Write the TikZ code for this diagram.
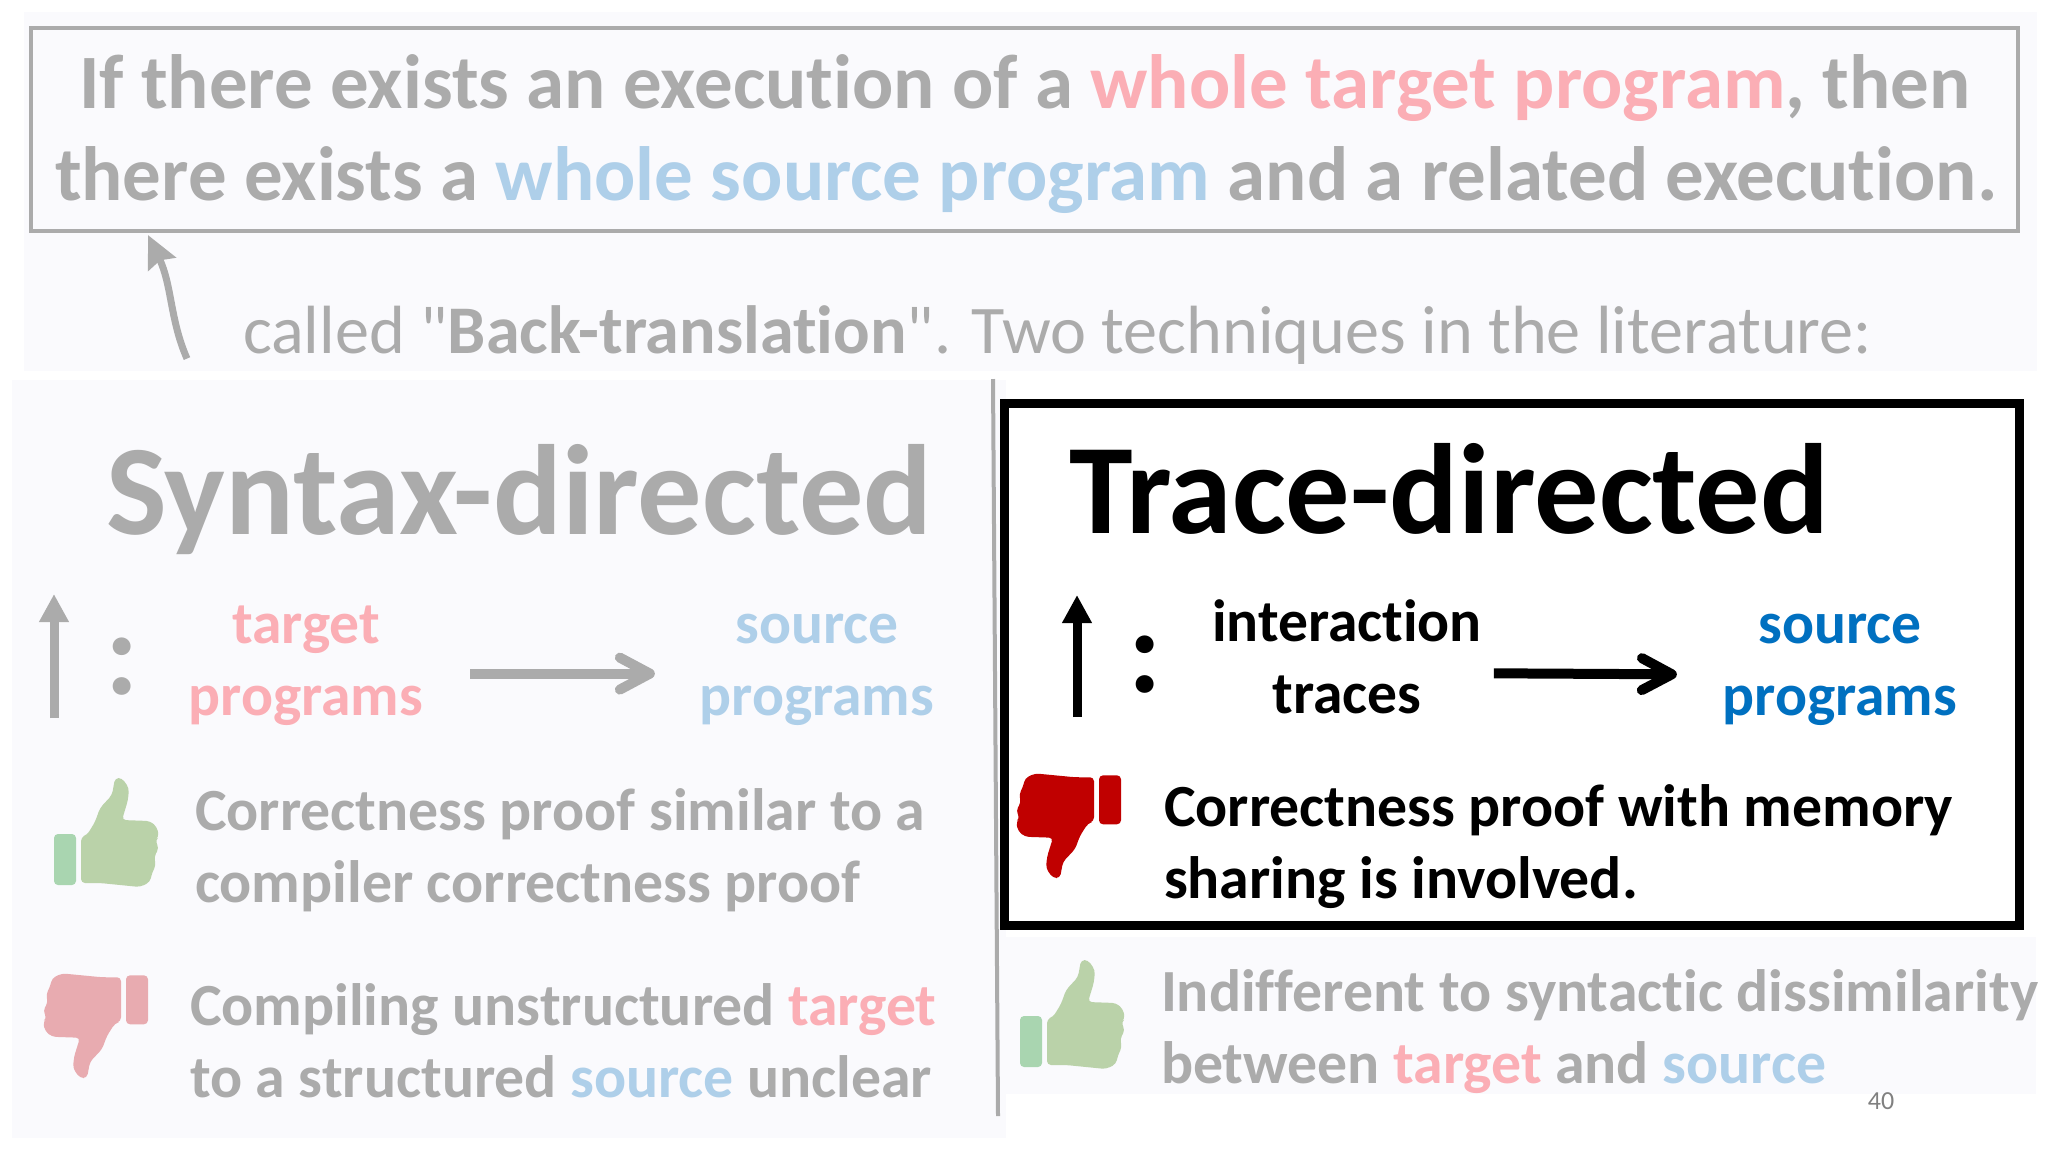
\documentclass[tikz,border=0pt]{standalone}
\usepackage{fontspec}
\setmainfont{Carlito}[Ligatures={NoCommon,TeXOff}]
\usetikzlibrary{arrows.meta}

\definecolor{fadegray}{HTML}{ABABAB}
\definecolor{fadered}{HTML}{FBAEB5}
\definecolor{fadeblue}{HTML}{AECFE9}
\definecolor{panelbg}{HTML}{FAFAFD}
\definecolor{solidblue}{HTML}{0070C0}
\definecolor{solidred}{HTML}{C00000}
\definecolor{thumbbar}{HTML}{A9D5B0}
\definecolor{thumbhand}{HTML}{BAD2A9}
\definecolor{thumbbad}{HTML}{E8ABB0}
\newcommand{\tg}[1]{\textcolor{fadered}{#1}}
\newcommand{\sr}[1]{\textcolor{fadeblue}{#1}}

\tikzset{
  panel/.style={fill=panelbg,draw=none},
  txt/.style={inner sep=0pt,outer sep=0pt},
  headline/.style={txt,anchor=base west,font=\fontsize{38.46}{36}\bfseries\selectfont},
  title/.style={txt,anchor=base west,font=\fontsize{64.2}{60}\bfseries\selectfont},
  body/.style={txt,anchor=base west,align=left,font=\fontsize{29.9}{36}\bfseries\selectfont},
  dual/.style={txt,anchor=base,align=center,font=\fontsize{29.8}{36}\bfseries\selectfont},
  colon/.style={txt,anchor=base,font=\fontsize{60}{60}\bfseries\selectfont},
  uparrow/.style={line width=4.5pt,-{Triangle[length=14pt,width=14pt]}},
  flow/.style={line width=5pt,-{Straight Barb[length=15pt,width=16pt,round]}},
  pics/thumb/.style 2 args={code={
    \fill[rounded corners=2pt,#1] (0,57) rectangle (22,108);
    \fill[#2,rounded corners=2pt] (27,106) -- (27,60) -- (33,58) -- (41,45) -- (46,31)
      -- (58,18) -- (61,1) -- (68,1) -- (75,11) -- (74,23) -- (68,43) -- (96,44)
      -- (103,50) -- (105,60) -- (101,63) -- (105,71) -- (100,80) -- (102,88)
      -- (98,96) -- (96,105) -- (86,110) -- (46,106) -- cycle;
  }},
}

\begin{document}
\begin{tikzpicture}[x=0.5pt,y=-0.5pt]
  \useasboundingbox (0,0) rectangle (2048,1152);
  % backgrounds
  \fill[panel] (24,12) rectangle (2037,371);
  \fill[panel] (12,380) rectangle (1006,1138);
  \fill[panel] (1000,937) rectangle (2036,1094);
  % top statement
  \node[draw=fadegray,line width=2pt,minimum width=993.5pt,minimum height=101.5pt,anchor=north west,inner sep=0pt,outer sep=0pt] (stmt) at (31,28) {};
  \node[headline,text=fadegray] (line1) at (79,108) {If there exists an execution of a \tg{whole target program}, then};
  \node[headline,text=fadegray] (line2) at (55,200.5) {there exists a \sr{whole source program} and a related execution.};
  \node[txt,anchor=base west,text=fadegray,font=\fontsize{34.1}{36}\selectfont] (called) at (243,353) {called "\textbf{Back-translation}". Two techniques in the literature:};
  \draw[fadegray,line width=3.5pt,-{Stealth[length=16pt,width=15pt,inset=2pt]}] ([shift={(-56,24)}]called.west) .. controls (170,320) and (172,285) .. ([shift={(117,4)}]stmt.south west);
  % divider
  \coordinate (divtop) at (993,379);
  \coordinate (divbot) at (998,1116);
  \draw[fadegray,line width=2pt] (divtop) -- (divbot);
  % left column
  \node[title,text=fadegray] (syntax) at (106,534) {Syntax-directed};
  \coordinate (lupa) at (54,718);
  \coordinate (lupb) at (54,594);
  \draw[fadegray,uparrow] (lupa) -- (lupb);
  \node[colon,text=fadegray] (lcolon) at (122,694) {:};
  \node[dual,text=fadered] (ltgt) at (306,715.5) {\strut target\\\strut programs};
  \node[dual,text=fadeblue] (lsrc) at (817,715.5) {\strut source\\\strut programs};
  \draw[fadegray,flow] ([shift={(47,8.5)}]ltgt.east) -- ([shift={(-45,8.5)}]lsrc.west);
  \pic at (54,777) {thumb={thumbbar}{thumbhand}};
  \node[body,text=fadegray] (lpro) at (195,902.5) {Correctness proof similar to a\\compiler correctness proof};
  \pic[xscale=-1,yscale=-0.96] at (148,1079) {thumb={thumbbad}{thumbbad}};
  \node[body,text=fadegray] (lcon) at (190,1097) {Compiling unstructured \tg{target}\\to a structured \sr{source} unclear};
  % right column
  \node[draw=black,line width=4.5pt,minimum width=507.5pt,minimum height=261pt,anchor=north west,inner sep=0pt,outer sep=0pt,fill=white] (tracebox) at (1004,403) {};
  \node[title] (trace) at (1069,533.5) {Trace-directed};
  \coordinate (rupa) at (1077,717);
  \coordinate (rupb) at (1077,595);
  \draw[uparrow] (rupa) -- (rupb);
  \node[colon] (rcolon) at (1145,692) {:};
  \node[dual] (rtrc) at (1347,713.5) {\strut interaction\\\strut traces};
  \node[dual,text=solidblue] (rsrc) at (1840,715) {\strut source\\\strut programs};
  \draw[flow] ([shift={(12,10.2)}]rtrc.east) -- ([shift={(-46,9.7)}]rsrc.west);
  \pic[xscale=-1,yscale=-0.96] at (1121,879) {thumb={solidred}{solidred}};
  \node[body] (rcon) at (1164,898.5) {Correctness proof with memory\\sharing is involved.};
  \pic at (1020,959) {thumb={thumbbar}{thumbhand}};
  \node[body,text=fadegray] (rpro) at (1161,1083.5) {Indifferent to syntactic dissimilarity\\between \tg{target} and \sr{source}};
  \node[txt,anchor=base,text=gray,font=\fontsize{13}{14}\selectfont] (pageno) at (1881,1109) {40};
\end{tikzpicture}
\end{document}
